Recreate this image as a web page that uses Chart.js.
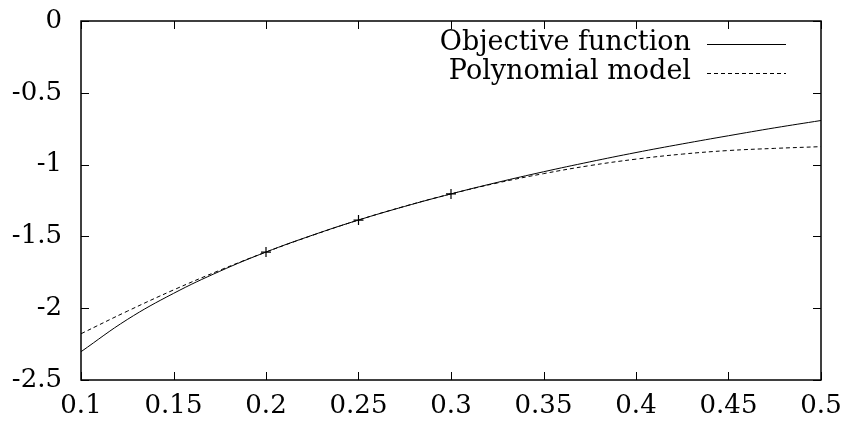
<!DOCTYPE html>
<html>
<head>
<meta charset="utf-8">
<script src="https://cdn.jsdelivr.net/npm/chart.js@4"></script>
<style>
  html, body { margin: 0; padding: 0; background: #fff; }
  #wrap { width: 849px; height: 422px; }
</style>
</head>
<body>
<div id="wrap"><canvas id="myChart"></canvas></div>
<script>
// x values
const xs = [0.1, 0.125, 0.15, 0.175, 0.2, 0.225, 0.25, 0.275, 0.3, 0.325, 0.35, 0.375, 0.4, 0.425, 0.45, 0.475, 0.5];
const objective = [-2.303, -2.079, -1.897, -1.743, -1.609, -1.492, -1.386, -1.291, -1.204, -1.124, -1.050, -0.981, -0.916, -0.856, -0.799, -0.744, -0.693];
const polynomial = [-2.178, -2.021, -1.873, -1.736, -1.609, -1.493, -1.386, -1.290, -1.204, -1.128, -1.063, -1.007, -0.962, -0.927, -0.902, -0.887, -0.875];
// sample points marked with +
const sampleX = [0.2, 0.25, 0.3];
const sampleY = [-1.609, -1.386, -1.204];
const xTicks = [0.1, 0.15, 0.2, 0.25, 0.3, 0.35, 0.4, 0.45, 0.5];
const yTicks = [-2.5, -2, -1.5, -1, -0.5, 0];
const labels = ['Objective function', 'Polynomial model'];

const FONT = 'DejaVu Serif';

const pts = (xx, yy) => xx.map((x, i) => ({ x: x, y: yy[i] }));

// frame, inward ticks, legend (gnuplot look)
const framePlugin = {
  id: 'frame',
  afterDatasetsDraw(chart) {
    const ctx = chart.ctx;
    const a = chart.chartArea;
    const sx = chart.scales.x, sy = chart.scales.y;
    ctx.save();
    ctx.strokeStyle = '#000';
    ctx.lineWidth = 1;
    ctx.setLineDash([]);
    ctx.beginPath();
    xTicks.forEach(v => {
      const p = Math.round(sx.getPixelForValue(v)) + 0.5;
      ctx.moveTo(p, a.bottom); ctx.lineTo(p, a.bottom - 8);
      ctx.moveTo(p, a.top); ctx.lineTo(p, a.top + 8);
    });
    yTicks.forEach(v => {
      const p = Math.round(sy.getPixelForValue(v)) + 0.5;
      ctx.moveTo(a.left, p); ctx.lineTo(a.left + 8, p);
      ctx.moveTo(a.right, p); ctx.lineTo(a.right - 8, p);
    });
    ctx.stroke();
    ctx.lineWidth = 1.5;
    ctx.strokeRect(a.left, a.top, a.right - a.left, a.bottom - a.top);

    // legend
    ctx.font = '27px "' + FONT + '"';
    ctx.fillStyle = '#000';
    ctx.textAlign = 'right';
    ctx.textBaseline = 'middle';
    const rows = [44, 73];
    chart.data.datasets.slice(0, 2).forEach((ds, i) => {
      ctx.fillText(ds.label, 691, rows[i] - 1);
      ctx.lineWidth = 1;
      ctx.setLineDash(ds.borderDash || []);
      ctx.beginPath();
      ctx.moveTo(707, rows[i] + 0.5);
      ctx.lineTo(786, rows[i] + 0.5);
      ctx.stroke();
    });
    ctx.restore();
  }
};

const ctx = document.getElementById('myChart').getContext('2d');
new Chart(ctx, {
  type: 'line',
  data: {
    datasets: [
      {
        label: labels[0],
        data: pts(xs, objective),
        borderColor: '#000',
        borderWidth: 1,
        pointRadius: 0,
        tension: 0.4
      },
      {
        label: labels[1],
        data: pts(xs, polynomial),
        borderColor: '#000',
        borderWidth: 1,
        borderDash: [4, 3],
        pointRadius: 0,
        tension: 0.4
      },
      {
        label: 'samples',
        data: pts(sampleX, sampleY),
        showLine: false,
        borderColor: '#000',
        borderWidth: 1.2,
        pointStyle: 'cross',
        pointRadius: 5
      }
    ]
  },
  options: {
    responsive: true,
    maintainAspectRatio: false,
    animation: false,
    layout: { padding: { top: 21, right: 28, bottom: 0, left: 0 } },
    scales: {
      x: {
        type: 'linear',
        min: 0.1,
        max: 0.5,
        afterBuildTicks: s => { s.ticks = xTicks.map(v => ({ value: v })); },
        afterFit: s => { s.height = 42; s.paddingLeft = 0; s.paddingRight = 0; },
        grid: { display: false, drawTicks: false },
        border: { display: false },
        ticks: {
          padding: 11,
          color: '#000',
          font: { family: FONT, size: 26 },
          maxRotation: 0,
          callback: v => String(v)
        }
      },
      y: {
        min: -2.5,
        max: 0,
        afterBuildTicks: s => { s.ticks = yTicks.map(v => ({ value: v })); },
        afterFit: s => { s.width = 81; s.paddingTop = 0; s.paddingBottom = 0; },
        grid: { display: false, drawTicks: false },
        border: { display: false },
        ticks: {
          padding: 19,
          color: '#000',
          font: { family: FONT, size: 26 },
          callback: v => String(v)
        }
      }
    },
    plugins: {
      legend: { display: false },
      tooltip: { enabled: false }
    }
  },
  plugins: [framePlugin]
});
</script>
</body>
</html>
